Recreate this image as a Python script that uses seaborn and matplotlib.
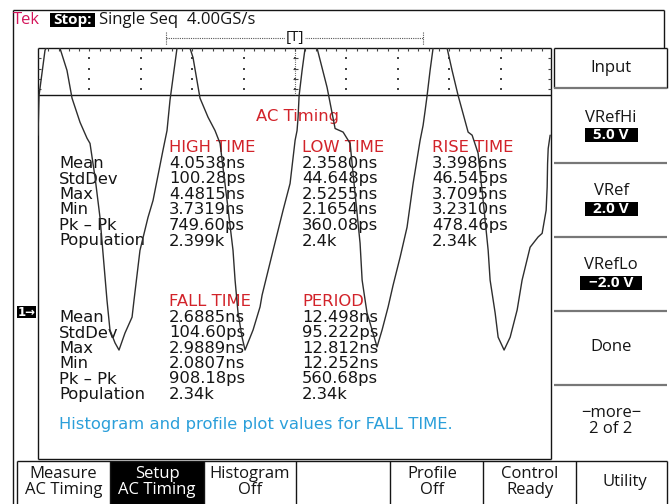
import matplotlib
matplotlib.use("Agg")
import matplotlib.pyplot as plt
import seaborn as sns
import pandas as pd
from matplotlib.patches import Rectangle

sns.set_theme(style="white")
plt.rcParams["font.family"] = ["DejaVu Sans"]

# Channel 1 acquisition: time in ns (5 ns/div), amplitude in V (1 V/div)
trace_t = [0.00, 0.10, 0.68, 1.36, 2.14, 2.82, 3.31, 4.09, 4.77, 5.06, 5.55, 6.03,
           6.71, 7.00, 7.49, 7.88, 8.46, 9.15, 9.34, 9.92, 10.70, 11.19, 12.16, 12.55,
           12.84, 13.23, 13.52, 14.11, 14.79, 15.08, 15.76, 16.54, 17.22, 17.71, 18.39,
           18.97, 19.17, 19.46, 19.85, 20.14, 20.92, 21.60, 21.80, 22.87, 23.84, 24.52,
           25.01, 25.20, 25.30, 25.40, 25.69, 25.98, 26.56, 27.15, 28.12, 28.90, 29.68,
           30.36, 30.84, 31.33, 31.53, 31.82, 32.01, 32.50, 32.98, 33.47, 34.06, 34.54,
           35.23, 35.90, 36.49, 37.17, 37.46, 37.66, 37.85, 38.14, 38.43, 39.11, 39.80,
           40.28, 40.87, 41.84, 42.23, 42.81, 43.30, 43.79, 43.98, 44.47, 44.76, 45.34,
           45.93, 46.61, 47.09, 47.87, 48.65, 49.04, 49.43, 49.53, 49.57, 49.63, 49.82]
trace_v = [3.44, 4.21, 5.09, 5.38, 5.13, 4.70, 4.16, 3.69, 3.38, 3.28, 2.62, 1.84,
           0.23, -0.35, -0.60, -0.74, -0.41, -0.10, 0.23, 1.20, 1.84, 2.17, 3.15, 3.53,
           4.12, 4.70, 5.13, 5.38, 5.13, 4.95, 4.16, 3.79, 3.53, 3.28, 2.17,
           1.20, 0.62, -0.02, -0.49, -0.74, -0.35, 0.10, 0.33, 1.20, 1.98, 2.50,
           3.34, 3.53, 3.79, 4.21, 4.70, 5.13, 5.38, 5.13, 4.37, 3.57, 3.50,
           3.28, 2.31, 1.34, 0.62, 0.23, -0.02, -0.35, -0.68, -0.35, 0.10, 0.52,
           1.07, 1.65, 2.50, 3.34, 3.63, 3.92, 4.21, 4.70, 5.13, 5.38, 5.13,
           4.70, 4.21, 3.50, 3.44, 3.09, 2.17, 1.20, 0.62, -0.02, -0.49, -0.74,
           -0.49, 0.04, 0.62, 1.26, 1.46, 1.53, 1.98, 2.43, 2.89, 3.18, 3.44]

panel_title = "AC Timing"
row_labels = ["Mean", "StdDev", "Max", "Min", "Pk \u2013 Pk", "Population"]
upper_heads = ["HIGH TIME", "LOW TIME", "RISE TIME"]
high_time = ["4.0538ns", "100.28ps", "4.4815ns", "3.7319ns", "749.60ps", "2.399k"]
low_time = ["2.3580ns", "44.648ps", "2.5255ns", "2.1654ns", "360.08ps", "2.4k"]
rise_time = ["3.3986ns", "46.545ps", "3.7095ns", "3.2310ns", "478.46ps", "2.34k"]
lower_heads = ["FALL TIME", "PERIOD"]
fall_time = ["2.6885ns", "104.60ps", "2.9889ns", "2.0807ns", "908.18ps", "2.34k"]
period = ["12.498ns", "95.222ps", "12.812ns", "12.252ns", "560.68ps", "2.34k"]
note = "Histogram and profile plot values for FALL TIME."

side_menu = [("Input", None), ("VRefHi", "5.0 V"), ("VRef", "2.0 V"),
             ("VRefLo", "\u22122.0 V"), ("Done", None), ("\u2212more\u2212\n2 of 2", None)]
bottom_menu = ["Measure\nAC Timing", "Setup\nAC Timing", "Histogram\nOff", "",
               "Profile\nOff", "Control\nReady", "Utility"]

RED = "#d2232a"
BLUE = "#2b9fda"
TEK = "#d4145a"
INK = "#151515"
UI = ["Open Sans", "DejaVu Sans"]

W, H = 669, 504
fig = plt.figure(figsize=(W / 100, H / 100), dpi=100)
fig.patch.set_facecolor("white")

# screen layer in pixel units
bg = fig.add_axes([0, 0, 1, 1])
bg.set_xlim(0, W)
bg.set_ylim(H, 0)
bg.axis("off")

def hline(y, x0, x1, **kw):
    kw.setdefault("color", INK)
    kw.setdefault("lw", 1.0)
    bg.plot([x0, x1], [y, y], solid_capstyle="butt", **kw)

def vline(x, y0, y1, **kw):
    kw.setdefault("color", INK)
    kw.setdefault("lw", 1.0)
    bg.plot([x, x], [y0, y1], solid_capstyle="butt", **kw)

# outer bezel
hline(10, 13, 664)
vline(13, 10, H)
vline(664, 10, 48)

# header
bg.text(13, 20, "Tek", color=TEK, fontsize=12, family=UI, va="center", ha="left")
bg.add_patch(Rectangle((50, 13), 45, 14, color="black", lw=0))
bg.text(72.5, 20, "Stop:", color="white", fontsize=11, family=UI, weight="bold",
        va="center", ha="center")
bg.text(99, 20, "Single Seq  4.00GS/s", color=INK, fontsize=12, family=UI,
        va="center", ha="left")

# trigger position bar
hline(38, 166, 423, ls=(0, (1, 1)), lw=0.8, color="#555")
vline(166, 32, 45, ls=(0, (1, 1)), lw=0.8, color="#555")
vline(423, 32, 45, ls=(0, (1, 1)), lw=0.8, color="#555")
bg.text(295, 38, "[T]", fontsize=11, family=UI, va="center", ha="center", color=INK,
        bbox=dict(facecolor="white", edgecolor="none", pad=0.5))

# graticule frame
GX0, GX1, GY0, GY1 = 38, 551, 48, 459
DIV = 51.4
hline(GY0, GX0, GX1)
hline(GY1, GX0, GX1)
vline(GX0, GY0, GY1)
vline(GX1, GY0, GY1)
hline(95, GX0, GX1)

# graticule ticks and dots in the visible strip
sub = DIV / 5
for k in range(1, 50):
    x = GX0 + sub * k
    vline(x, GY0, GY0 + 3, lw=0.8, color="#444")
dot_rows = [GY0 + sub * j for j in range(1, 5)]
for y in dot_rows:
    hline(y, GX0, GX0 + 3, lw=0.8, color="#444")
    hline(y, GX1 - 3, GX1, lw=0.8, color="#444")
dx, dy = [], []
for k in range(1, 10):
    x = GX0 + DIV * k
    for y in dot_rows:
        dx.append(x)
        dy.append(y)
bg.scatter(dx, dy, s=0.9, marker="s", color="#444", linewidths=0)
cx = GX0 + DIV * 5
vline(cx, GY0, 95, ls=(0, (0.8, 1.2)), lw=0.8, color="#555")
for y in dot_rows:
    hline(y, cx - 2.5, cx + 2.5, lw=0.8, color="#444")

# channel marker
bg.add_patch(Rectangle((17, 306), 19, 12, color="black", lw=0))
bg.text(26.5, 312, "1\u2192", color="white", fontsize=8.5, weight="bold",
        va="center", ha="center")

# measurement readout
FS = 11.8
bg.text(298, 117, panel_title, color=RED, fontsize=FS, va="center", ha="center")
cols = [169, 302, 432]
y_head1, y_rows1 = 148, [163.5, 179, 194.5, 210, 225.5, 241]
for x, h in zip(cols, upper_heads):
    bg.text(x, y_head1, h, color=RED, fontsize=FS, va="center", ha="left")
for y, lab, a, b, c in zip(y_rows1, row_labels, high_time, low_time, rise_time):
    bg.text(59, y, lab, color=INK, fontsize=FS, va="center", ha="left")
    for x, val in zip(cols, (a, b, c)):
        bg.text(x, y, val, color=INK, fontsize=FS, va="center", ha="left")

y_head2, y_rows2 = 302, [317.5, 333, 348.5, 363.5, 379, 394.5]
for x, h in zip(cols, lower_heads):
    bg.text(x, y_head2, h, color=RED, fontsize=FS, va="center", ha="left")
for y, lab, a, b in zip(y_rows2, row_labels, fall_time, period):
    bg.text(59, y, lab, color=INK, fontsize=FS, va="center", ha="left")
    for x, val in zip(cols, (a, b)):
        bg.text(x, y, val, color=INK, fontsize=FS, va="center", ha="left")

bg.text(59, 425, note, color=BLUE, fontsize=FS, va="center", ha="left")

# side menu
MX0, MX1 = 554, 667
edges = [48, 88, 163, 237, 311, 385, 459]
vline(MX0, 48, 88)
vline(MX1, 48, 88)
hline(48, MX0, MX1)
for y in edges[1:-1]:
    hline(y, MX0, MX1, color="#777", lw=1.6)
mcx = 611
label_y = [68, 118, 191, 265, 347, 421]
box_y = [None, 135, 209, 283, None, None]
box_w = [None, 53, 53, 62, None, None]
for (lab, val), ly, by, bw in zip(side_menu, label_y, box_y, box_w):
    bg.text(mcx, ly, lab, color=INK, fontsize=12, family=UI, va="center",
            ha="center", linespacing=0.95)
    if val is not None:
        bg.add_patch(Rectangle((mcx - bw / 2, by - 7), bw, 14, color="black", lw=0))
        bg.text(mcx, by, val, color="white", fontsize=11, family=UI, weight="bold",
                va="center", ha="center")

# bottom soft keys
BY0 = 461
keys_x = [17, 110, 204, 296, 390, 483, 576, 667]
hline(BY0, 17, 667)
for x in keys_x:
    vline(x, BY0, H)
bg.add_patch(Rectangle((110, BY0), 94, H - BY0, color="black", lw=0))
text_cx = [63.5, 157, 250, 343, 432, 529.5, 625]
for i, (lab, x) in enumerate(zip(bottom_menu, text_cx)):
    col = "white" if i == 1 else INK
    bg.text(x, 482, lab, color=col, fontsize=12, family=UI, va="center",
            ha="center", linespacing=0.95)

# waveform layer aligned with the graticule (10 x 8 divisions)
wa = fig.add_axes([GX0 / W, (H - GY1) / H, (10 * DIV) / W, (GY1 - GY0) / H])
wa.patch.set_alpha(0)
df = pd.DataFrame({"t": trace_t, "v": trace_v})
sns.lineplot(data=df, x="t", y="v", ax=wa, color="#2e2e2e", lw=1.0,
             sort=False, estimator=None)
wa.set_xlim(0, 50)
wa.set_ylim((312 - GY1) / DIV, (312 - GY0) / DIV)
wa.axis("off")

fig.savefig("out.png", dpi=100, facecolor="white")
